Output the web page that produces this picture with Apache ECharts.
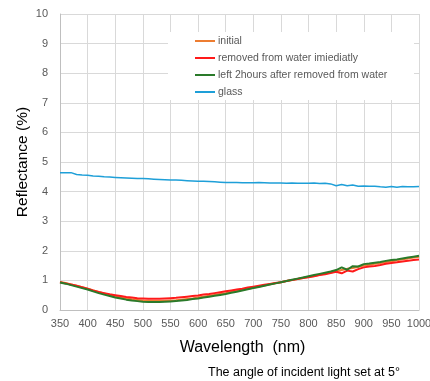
<!DOCTYPE html>
<html>
<head>
<meta charset="utf-8">
<script src="https://cdn.jsdelivr.net/npm/echarts@6/dist/echarts.min.js"></script>
<style>html,body{margin:0;padding:0;background:#fff;}#c{width:430px;height:381px;}</style>
</head>
<body>
<div id="c"></div>
<script>
const wavelengths = [350,360,370,380,390,400,410,420,430,440,450,460,470,480,490,500,510,520,530,540,550,560,570,580,590,600,610,620,630,640,650,660,670,680,690,700,710,720,730,740,750,760,770,780,790,800,810,820,830,840,850,860,870,880,890,900,910,920,930,940,950,960,970,980,990,1000];
const initial = [0.95,0.91,0.86,0.82,0.77,0.72,0.66,0.61,0.56,0.51,0.46,0.42,0.39,0.36,0.34,0.32,0.31,0.30,0.30,0.31,0.32,0.33,0.35,0.37,0.39,0.42,0.45,0.48,0.51,0.54,0.57,0.61,0.64,0.68,0.72,0.75,0.79,0.83,0.87,0.90,0.94,0.98,1.01,1.05,1.08,1.12,1.15,1.19,1.23,1.27,1.31,1.35,1.39,1.42,1.46,1.50,1.53,1.56,1.59,1.62,1.65,1.68,1.71,1.74,1.77,1.80];
const removed = [0.94,0.90,0.86,0.82,0.77,0.72,0.66,0.61,0.57,0.53,0.50,0.47,0.44,0.42,0.40,0.39,0.38,0.38,0.38,0.39,0.40,0.41,0.43,0.45,0.47,0.49,0.52,0.54,0.57,0.60,0.63,0.66,0.69,0.72,0.76,0.79,0.82,0.85,0.88,0.91,0.94,0.98,1.01,1.05,1.08,1.11,1.14,1.18,1.21,1.25,1.29,1.24,1.33,1.30,1.38,1.44,1.47,1.49,1.52,1.56,1.59,1.61,1.64,1.66,1.69,1.71];
const left2h = [0.93,0.89,0.84,0.79,0.74,0.69,0.63,0.57,0.52,0.47,0.42,0.39,0.35,0.32,0.30,0.28,0.27,0.27,0.27,0.28,0.29,0.30,0.32,0.34,0.37,0.39,0.42,0.45,0.48,0.51,0.54,0.58,0.62,0.66,0.70,0.74,0.78,0.82,0.86,0.90,0.94,0.98,1.02,1.06,1.10,1.14,1.18,1.22,1.26,1.30,1.35,1.44,1.36,1.48,1.47,1.55,1.57,1.60,1.62,1.66,1.69,1.71,1.74,1.77,1.80,1.83];
const glass = [4.64,4.64,4.64,4.58,4.56,4.55,4.53,4.52,4.50,4.49,4.48,4.47,4.46,4.45,4.44,4.44,4.43,4.42,4.41,4.40,4.39,4.39,4.38,4.37,4.36,4.35,4.35,4.34,4.33,4.32,4.31,4.31,4.31,4.30,4.30,4.30,4.31,4.30,4.29,4.29,4.29,4.28,4.29,4.28,4.28,4.28,4.29,4.27,4.28,4.26,4.20,4.24,4.20,4.22,4.18,4.19,4.18,4.18,4.16,4.15,4.17,4.15,4.17,4.16,4.16,4.17];
const seriesNames = ['initial','removed from water imiediatly','left 2hours after removed from water','glass'];
const yTicks = [0,1,2,3,4,5,6,7,8,9,10];

const FONT = 'Liberation Sans, Arial, sans-serif';
const pair = arr => wavelengths.map((w,i)=>[w,arr[i]]);
const chart = echarts.init(document.getElementById('c'), null, {renderer:'canvas'});
chart.setOption({
  animation:false,
  backgroundColor:'#fff',
  textStyle:{fontFamily:FONT},
  title:{text:'The angle of incident light set at 5°', left:208, top:366, padding:0,
    textStyle:{fontSize:12.5, fontWeight:'normal', color:'#000', fontFamily:FONT}},
  grid:{left:60, right:11, top:14, bottom:71, containLabel:false, outerBoundsMode:'none'},
  graphic:[{type:'rect', shape:{x:168,y:32,width:246,height:68}, style:{fill:'#fff'}, z:1, silent:true}],
  legend:{orient:'vertical', left:195, top:34, padding:0, itemGap:3, itemWidth:20, itemHeight:2,
    icon:'rect', data:seriesNames,
    textStyle:{fontSize:10.5, color:'#595959', fontFamily:FONT, lineHeight:14, padding:[0,0,0,-2]}},
  xAxis:{type:'value', min:350, max:1000, interval:50,
    name:'Wavelength  (nm)', nameLocation:'middle', nameGap:30, nameMoveOverlap:false,
    nameTextStyle:{fontSize:16, color:'#000', fontFamily:FONT, padding:[0,0,0,6]},
    axisLine:{show:true, lineStyle:{color:'#bfbfbf', width:1}},
    axisTick:{show:false},
    axisLabel:{fontSize:11, color:'#595959', margin:8, fontFamily:FONT, formatter: v => String(v)},
    splitLine:{show:true, lineStyle:{color:'#d9d9d9', width:1}}},
  yAxis:{type:'value', min:0, max:10, interval:1,
    name:'Reflectance (%)', nameLocation:'middle', nameGap:29, nameRotate:90, nameMoveOverlap:false,
    nameTextStyle:{fontSize:15.5, color:'#000', fontFamily:FONT},
    axisLine:{show:true, lineStyle:{color:'#bfbfbf', width:1}},
    axisTick:{show:false},
    axisLabel:{fontSize:11, color:'#595959', margin:12, fontFamily:FONT,
      formatter: v => yTicks.includes(v) ? String(v) : ''},
    splitLine:{show:true, lineStyle:{color:'#d9d9d9', width:1}}},
  series:[
    {name:seriesNames[0], type:'line', data:pair(initial), showSymbol:false, color:'#ED7D31', lineStyle:{width:2}, z:2},
    {name:seriesNames[1], type:'line', data:pair(removed), showSymbol:false, color:'#FF1A1A', lineStyle:{width:2}, z:3},
    {name:seriesNames[2], type:'line', data:pair(left2h), showSymbol:false, color:'#2A7A2A', lineStyle:{width:2}, z:4},
    {name:seriesNames[3], type:'line', data:pair(glass), showSymbol:false, color:'#1E9FD8', lineStyle:{width:1.5}, z:5}
  ]
});
</script>
</body>
</html>
